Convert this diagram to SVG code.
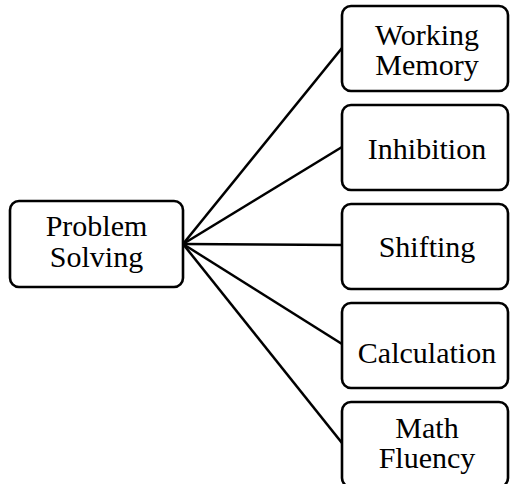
<svg xmlns="http://www.w3.org/2000/svg" width="510" height="484" viewBox="0 0 510 484">
<style>
.box{fill:#fff;stroke:#000;stroke-width:2.6}
.lbl{font-family:'Liberation Serif','Times New Roman',serif;font-size:30px;fill:#000;text-anchor:middle}
.conn{stroke:#000;stroke-width:2.6;fill:none}
</style>
<rect width="510" height="484" fill="#fff"/>
<g id="connectors">
<line class="conn" x1="183" y1="244" x2="342" y2="48"/>
<line class="conn" x1="183" y1="244" x2="342" y2="147"/>
<line class="conn" x1="183" y1="244" x2="342" y2="245"/>
<line class="conn" x1="183" y1="244" x2="342" y2="344"/>
<line class="conn" x1="183" y1="244" x2="342" y2="443"/>
</g>
<g id="problem-solving">
<rect class="box" x="10" y="201" width="173" height="86" rx="9"/>
<text class="lbl"><tspan x="96.5" y="236">Problem</tspan><tspan x="96.5" y="266.5">Solving</tspan></text>
</g>
<g id="working-memory">
<rect class="box" x="342" y="6" width="166" height="85" rx="9"/>
<text class="lbl"><tspan x="427" y="44.5">Working</tspan><tspan x="427" y="75">Memory</tspan></text>
</g>
<g id="inhibition">
<rect class="box" x="342" y="105" width="166" height="85" rx="9"/>
<text class="lbl" x="427" y="159">Inhibition</text>
</g>
<g id="shifting">
<rect class="box" x="342" y="204" width="166" height="85" rx="9"/>
<text class="lbl" x="427" y="257">Shifting</text>
</g>
<g id="calculation">
<rect class="box" x="342" y="303" width="166" height="85" rx="9"/>
<text class="lbl" x="427" y="363">Calculation</text>
</g>
<g id="math-fluency">
<rect class="box" x="342" y="402" width="166" height="85" rx="9"/>
<text class="lbl"><tspan x="427" y="437.5">Math</tspan><tspan x="427" y="468">Fluency</tspan></text>
</g>
</svg>
